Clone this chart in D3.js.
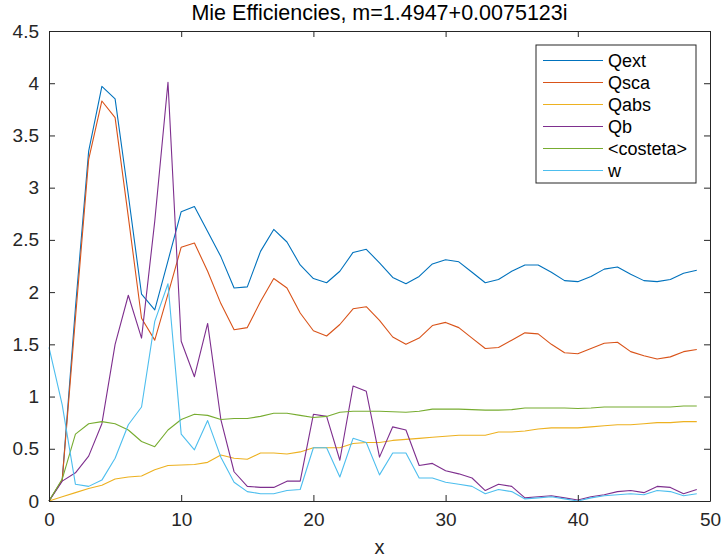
<!DOCTYPE html>
<html>
<head>
<meta charset="utf-8">
<script src="https://cdn.jsdelivr.net/npm/d3@7"></script>
<style>
  body { margin: 0; background: #fff; }
  svg text { font-family: "Liberation Sans", Arial, Helvetica, sans-serif; }
</style>
</head>
<body>
<div id="chart"></div>
<script>
const xs = d3.range(0, 50);

const qext = [0, 0.2, 1.85, 3.35, 3.97, 3.85, 2.93, 1.98, 1.83, 2.30, 2.77, 2.82, 2.58, 2.34, 2.04, 2.05, 2.39, 2.60, 2.48, 2.26,
  2.13, 2.09, 2.20, 2.38, 2.41, 2.28, 2.14, 2.08, 2.15, 2.27, 2.31, 2.29, 2.19, 2.09, 2.12, 2.20, 2.26, 2.26, 2.19, 2.11,
  2.10, 2.15, 2.22, 2.24, 2.17, 2.11, 2.10, 2.12, 2.18, 2.21];
const qsca = [0, 0.2, 1.75, 3.27, 3.83, 3.67, 2.72, 1.75, 1.54, 1.98, 2.43, 2.47, 2.20, 1.89, 1.64, 1.66, 1.91, 2.13, 2.04, 1.80,
  1.63, 1.58, 1.69, 1.84, 1.86, 1.73, 1.57, 1.50, 1.56, 1.68, 1.71, 1.66, 1.56, 1.46, 1.47, 1.54, 1.61, 1.60, 1.50, 1.42,
  1.41, 1.46, 1.51, 1.52, 1.43, 1.39, 1.36, 1.38, 1.43, 1.45];
const qabs = [0, 0.04, 0.08, 0.12, 0.15, 0.21, 0.23, 0.24, 0.30, 0.34, 0.345, 0.35, 0.37, 0.44, 0.41, 0.40, 0.46, 0.46, 0.45, 0.47,
  0.51, 0.51, 0.51, 0.55, 0.56, 0.56, 0.58, 0.59, 0.60, 0.61, 0.62, 0.63, 0.63, 0.63, 0.66, 0.66, 0.67, 0.69, 0.70, 0.70,
  0.70, 0.71, 0.72, 0.73, 0.73, 0.74, 0.75, 0.75, 0.76, 0.76];
const qb = [0, 0.19, 0.27, 0.43, 0.74, 1.50, 1.97, 1.56, 2.68, 4.01, 1.53, 1.19, 1.70, 0.78, 0.28, 0.14, 0.13, 0.13, 0.19, 0.19,
  0.83, 0.81, 0.39, 1.10, 1.05, 0.42, 0.71, 0.68, 0.34, 0.36, 0.29, 0.26, 0.22, 0.10, 0.16, 0.14, 0.03, 0.04, 0.05, 0.03,
  0.01, 0.04, 0.06, 0.09, 0.10, 0.08, 0.14, 0.13, 0.07, 0.11];
const costeta = [0, 0.21, 0.64, 0.74, 0.76, 0.74, 0.68, 0.57, 0.52, 0.68, 0.78, 0.83, 0.82, 0.78, 0.79, 0.79, 0.81, 0.84, 0.84, 0.82,
  0.80, 0.81, 0.85, 0.86, 0.86, 0.86, 0.855, 0.85, 0.86, 0.88, 0.88, 0.88, 0.875, 0.87, 0.87, 0.875, 0.89, 0.89, 0.89, 0.89,
  0.885, 0.89, 0.90, 0.90, 0.90, 0.90, 0.90, 0.90, 0.91, 0.91];
const w = [1.47, 0.92, 0.16, 0.14, 0.20, 0.41, 0.73, 0.90, 1.72, 2.08, 0.64, 0.49, 0.77, 0.42, 0.18, 0.09, 0.07, 0.07, 0.10, 0.11,
  0.51, 0.51, 0.23, 0.60, 0.56, 0.25, 0.46, 0.46, 0.22, 0.22, 0.18, 0.16, 0.14, 0.07, 0.11, 0.09, 0.02, 0.03, 0.04, 0.02,
  0.00, 0.03, 0.05, 0.06, 0.07, 0.06, 0.10, 0.09, 0.05, 0.07];

const seriesNames = ["Qext", "Qsca", "Qabs", "Qb", "<costeta>", "w"];
const seriesValues = [qext, qsca, qabs, qb, costeta, w];
const colors = ["#0072BD", "#D95319", "#EDB120", "#7E2F8E", "#77AC30", "#4DBEEE"];

const xTicks = [0, 10, 20, 30, 40, 50];
const yTicks = [0, 0.5, 1, 1.5, 2, 2.5, 3, 3.5, 4, 4.5];

const width = 722, height = 558;
const plotL = 49, plotR = 710, plotT = 31, plotB = 501;
const axisColor = "#262626";

const svg = d3.select("#chart").append("svg")
  .attr("width", width)
  .attr("height", height);

const x = d3.scaleLinear().domain([0, 50]).range([plotL, plotR]);
const y = d3.scaleLinear().domain([0, 4.5]).range([plotB, plotT]);

// data lines
const line = d3.line().x((d, i) => x(xs[i])).y(d => y(d));

seriesValues.forEach((vals, k) => {
  svg.append("path")
    .datum(vals)
    .attr("d", line)
    .attr("fill", "none")
    .attr("stroke", colors[k])
    .attr("stroke-width", 1.1)
    .attr("stroke-linejoin", "round");
});

// axes (ticks pointing inward, box on)
function styleAxis(g) {
  g.select(".domain").attr("stroke", axisColor).attr("stroke-width", 1);
  g.selectAll(".tick line").attr("stroke", axisColor);
  g.selectAll(".tick text").attr("fill", axisColor).attr("font-size", "19px");
}

svg.append("g")
  .attr("transform", `translate(0,${plotB})`)
  .call(d3.axisBottom(x).tickValues(xTicks).tickSize(-6).tickSizeOuter(0).tickPadding(12).tickFormat(d3.format("d")))
  .call(styleAxis);

svg.append("g")
  .attr("transform", `translate(0,${plotT})`)
  .call(d3.axisTop(x).tickValues(xTicks).tickSize(-6).tickSizeOuter(0).tickFormat(""))
  .call(styleAxis);

svg.append("g")
  .attr("transform", `translate(${plotL},0)`)
  .call(d3.axisLeft(y).tickValues(yTicks).tickSize(-6).tickSizeOuter(0).tickPadding(10).tickFormat(d => String(d)))
  .call(styleAxis);

svg.append("g")
  .attr("transform", `translate(${plotR},0)`)
  .call(d3.axisRight(y).tickValues(yTicks).tickSize(-6).tickSizeOuter(0).tickFormat(""))
  .call(styleAxis);

// title and x label
svg.append("text")
  .attr("x", (plotL + plotR) / 2)
  .attr("y", 20)
  .attr("text-anchor", "middle")
  .attr("font-size", "21.5px")
  .attr("fill", "#000")
  .text("Mie Efficiencies, m=1.4947+0.0075123i");

svg.append("text")
  .attr("x", (plotL + plotR) / 2)
  .attr("y", 554)
  .attr("text-anchor", "middle")
  .attr("font-size", "20px")
  .attr("fill", axisColor)
  .text("x");

// legend
const legend = svg.append("g").attr("transform", "translate(536,45)");
legend.append("rect")
  .attr("width", 160)
  .attr("height", 138)
  .attr("fill", "#fff")
  .attr("stroke", axisColor)
  .attr("stroke-width", 1);

seriesNames.forEach((name, k) => {
  const ly = 15.5 + k * 22;
  legend.append("line")
    .attr("x1", 7).attr("x2", 67)
    .attr("y1", ly).attr("y2", ly)
    .attr("stroke", colors[k])
    .attr("stroke-width", 1.1);
  legend.append("text")
    .attr("x", 72)
    .attr("y", ly + 6)
    .attr("font-size", "18px")
    .attr("fill", "#000")
    .text(name);
});
</script>
</body>
</html>
